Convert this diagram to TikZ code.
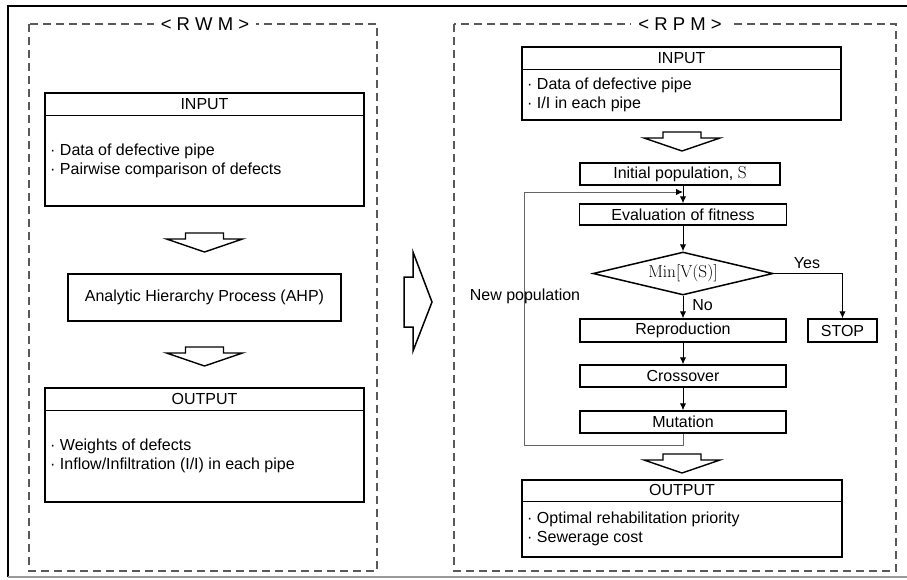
\documentclass[tikz,border=0pt]{standalone}
\usepackage[no-math]{fontspec}
\setmainfont{Liberation Sans}
\usetikzlibrary{shapes.geometric,arrows.meta,calc}
\begin{document}
\begin{tikzpicture}[x=1pt,y=-1pt,
  every node/.style={font=\fontsize{16}{19}\selectfont, inner sep=0pt},
  box/.style={draw, line width=1.5pt},
  boxline/.style={line width=1.5pt},
  flow/.style={line width=1pt, -{Latex[length=7pt,width=6.5pt]}},
  dashbox/.style={draw=black!65, line width=1.2pt, dash pattern=on 8pt off 5pt},
  title/.style={font=\fontsize{18.5}{20}\selectfont, fill=white, inner xsep=7pt, inner ysep=2pt},
  hollow/.pic={\draw[line width=1.4pt, fill=white] (-19,0) -- (19,0) -- (19,6) -- (38,6) -- (0,19) -- (-38,6) -- (-19,6) -- cycle;}
]
\useasboundingbox (0,0) rectangle (907,579);
% outer frame
\draw[line width=1.6pt] (8,577) -- (8,6) -- (907,6);
\draw[line width=1.2pt, black!40] (8,577) -- (907,577);
% dashed groups
\draw[dashbox] (29,24) rectangle (377,571);
\draw[dashbox] (454,24) rectangle (896,571);
\node[title] (rwm) at (205,24) {< R W M >};
\node[title] (rpm) at (680,24) {< R P M >};

% ---- RWM ----
\node[box, minimum width=319pt, minimum height=113pt] (lin) at (204.5,149.5) {};
\node (linh) at ($(lin.north)+(0,11.5)$) {INPUT};
\draw[boxline] ($(lin.north west)+(0,23)$) -- ($(lin.north east)+(0,23)$);
\node[anchor=west, align=left] (lint) at (50,161) {· Data of defective pipe\\· Pairwise comparison of defects};

\pic at (204.5,233) {hollow};

\node[box, minimum width=273pt, minimum height=47pt] (ahp) at (204.5,297.5) {Analytic Hierarchy Process (AHP)};

\pic at (204.5,347) {hollow};

\node[box, minimum width=319pt, minimum height=114pt] (lout) at (204.5,445) {};
\node (louth) at ($(lout.north)+(0,11.5)$) {OUTPUT};
\draw[boxline] ($(lout.north west)+(0,23)$) -- ($(lout.north east)+(0,23)$);
\node[anchor=west, align=left] (loutt) at (50,456) {· Weights of defects\\· Inflow/Infiltration (I/I) in each pipe};

% middle arrow
\draw[line width=1.5pt] (404,277) -- (413,277) -- (413,252) -- (432,302) -- (413,351) -- (413,327) -- (404,327) -- cycle;

% ---- RPM ----
\node[box, minimum width=319pt, minimum height=73pt] (rin) at (681.5,83.5) {};
\node (rinh) at ($(rin.north)+(0,11.5)$) {INPUT};
\draw[boxline] ($(rin.north west)+(0,23)$) -- ($(rin.north east)+(0,23)$);
\node[anchor=west, align=left] (rint) at (527,94.5) {· Data of defective pipe\\· I/I in each pipe};

\pic at (682,132) {hollow};

\node[box, minimum width=200pt, minimum height=22pt] (init) at (680,174) {Initial population, $\mathrm{S}$};
\node[box, minimum width=207pt, minimum height=21pt] (eval) at (683,214.5) {Evaluation of fitness};
\node[box, shape=diamond, aspect=4, minimum width=180pt, minimum height=43pt] (dia) at (683,273.5) {$\mathrm{Min[V(S)]}$};
\node[box, minimum width=206pt, minimum height=23pt] (rep) at (683,330.5) {Reproduction};
\node[box, minimum width=206pt, minimum height=22pt] (cross) at (683,376) {Crossover};
\node[box, minimum width=206pt, minimum height=22pt] (mut) at (683,422) {Mutation};
\node[box, minimum width=69pt, minimum height=23pt] (stop) at (842.5,330.5) {STOP};

\draw[flow] (init.south -| eval.north) -- (eval.north);
\draw[flow] (eval.south) -- (dia.north);
\draw[flow] (dia.south) -- (rep.north);
\draw[flow] (rep.south) -- (cross.north);
\draw[flow] (cross.south) -- (mut.north);
\draw[flow] (dia.east) -| (stop.north);
\node (yes) at (807,263) {Yes};
\node (no) at (702.5,305) {No};

\coordinate (lp1) at (524,445);
\coordinate (lp2) at (524,192);
\draw[line width=1pt, black!60, -{Latex[length=7pt,width=6.5pt,black]}] (mut.south) |- (lp1) -- (lp2) -- (lp2 -| eval.north);
\node (newpop) at (525,296) {New population};

\pic at (682,454) {hollow};

\node[box, minimum width=320pt, minimum height=77pt] (rout) at (682,518.5) {};
\node (routh) at ($(rout.north)+(0,11)$) {OUTPUT};
\draw[boxline] ($(rout.north west)+(0,22)$) -- ($(rout.north east)+(0,22)$);
\node[anchor=west, align=left] (routt) at (527,528.5) {· Optimal rehabilitation priority\\· Sewerage cost};
\end{tikzpicture}
\end{document}
